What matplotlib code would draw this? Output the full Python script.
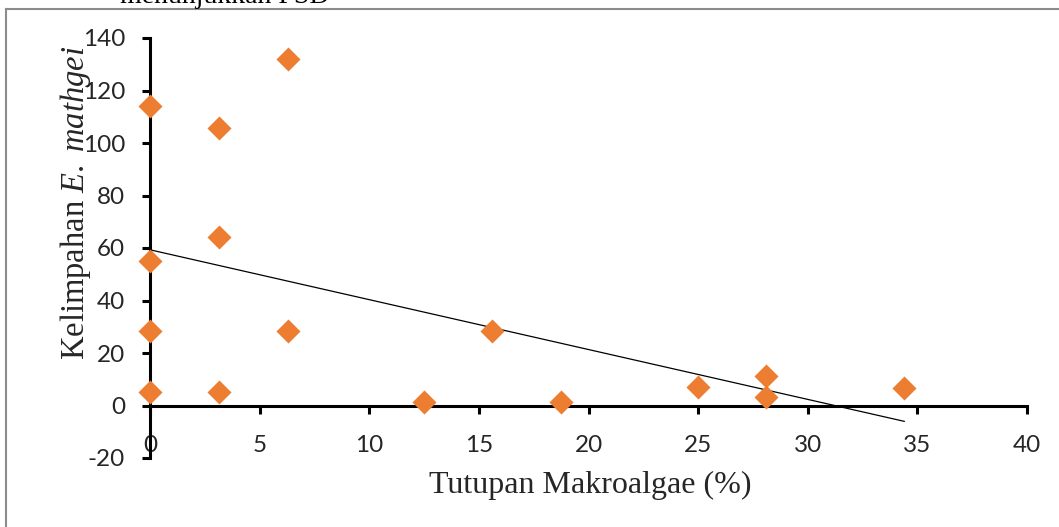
import numpy as np
import matplotlib
matplotlib.use("Agg")
import matplotlib.pyplot as plt
from matplotlib.lines import Line2D

# Data
tutupan = [0, 0, 0, 0, 3.15, 3.15, 3.15, 6.3, 6.3, 12.5, 15.6, 18.75, 25.0, 28.1, 28.1, 34.4]
kelimpahan = [114, 55, 28.5, 5.3, 105.7, 64.3, 5.3, 132, 28.5, 1.5, 28.5, 1.5, 7.2, 11.4, 3.4, 6.5]
x_ticks = [0, 5, 10, 15, 20, 25, 30, 35, 40]
y_ticks = [-20, 0, 20, 40, 60, 80, 100, 120, 140]

plt.rcParams['mathtext.fontset'] = 'custom'
plt.rcParams['mathtext.rm'] = 'Liberation Serif'
plt.rcParams['mathtext.it'] = 'Liberation Serif:italic'
plt.rcParams['axes.unicode_minus'] = False

fig = plt.figure(figsize=(10.59, 5.27), dpi=100)
ax = fig.add_axes([150/1059, 1-458/527, (1027-150)/1059, (458-38)/527])

x = np.array(tutupan)
y = np.array(kelimpahan)
ax.scatter(x, y, marker='D', s=150, color='#ED7D31', zorder=3, linewidths=0, clip_on=False)

m, b = np.polyfit(x, y, 1)
xl = np.array([0, x.max()])
ax.plot(xl, m*xl + b, color='black', lw=0.9, zorder=2)

ax.set_xlim(0, 40)
ax.set_ylim(-20, 140)
ax.set_xticks(x_ticks)
ax.set_yticks(y_ticks)
ax.spines['bottom'].set_position(('data', 0))
ax.spines['left'].set_position(('data', 0))
ax.spines['top'].set_visible(False)
ax.spines['right'].set_visible(False)
for s in ['bottom', 'left']:
    ax.spines[s].set_linewidth(2.2)
ax.tick_params(axis='both', direction='out', length=6, width=2.2, labelsize=17.5)
ax.tick_params(axis='y', pad=12)
ax.tick_params(axis='x', pad=15)
for lab in ax.get_xticklabels() + ax.get_yticklabels():
    lab.set_family('Lato')
    lab.set_color('#262626')

fig.text(590/1059, 1-485/527, 'Tutupan Makroalgae (%)', family='Liberation Serif',
         fontsize=23, ha='center', va='center', color='#262626')
fig.text(76/1059, 1-203/527, r'Kelimpahan $\mathit{E.\ mathgei}$', family='Liberation Serif',
         fontsize=23.5, ha='center', va='center', rotation=90, color='#262626')

fig.text(120/1059, 1-3/527, 'menunjukkan PSD', family='Liberation Serif', fontsize=20,
         ha='left', va='baseline', color='black')

# frame border
fig.add_artist(Line2D([6/1059, 1.0], [1-9/527, 1-9/527], transform=fig.transFigure,
                      color='#8c8c8c', lw=1.5))
fig.add_artist(Line2D([6/1059, 6/1059], [0, 1-9/527], transform=fig.transFigure,
                      color='#8c8c8c', lw=1.5))

fig.savefig('out.png', dpi=100)
